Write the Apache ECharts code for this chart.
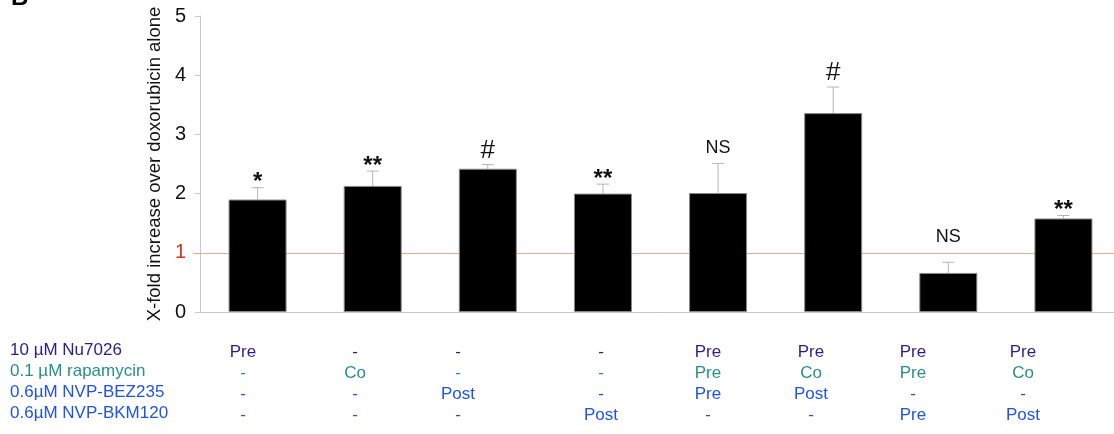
<!DOCTYPE html>
<html>
<head>
<meta charset="utf-8">
<script src="https://cdn.jsdelivr.net/npm/echarts@6/dist/echarts.min.js"></script>
<style>
  html, body { margin: 0; padding: 0; background: #fff; }
  #chart { width: 1114px; height: 434px; }
</style>
</head>
<body>
<div id="chart"></div>
<script>
// Fold increase in cytotoxicity over doxorubicin alone, per treatment schedule
const groups = ['G1', 'G2', 'G3', 'G4', 'G5', 'G6', 'G7', 'G8'];
const foldMeans = [1.90, 2.13, 2.42, 2.00, 2.01, 3.36, 0.66, 1.58];
const foldUpper = [2.10, 2.38, 2.49, 2.16, 2.51, 3.80, 0.84, 1.63];
const significance = ['*', '**', '#', '**', 'NS', '#', 'NS', '**'];
const yTicks = [0, 1, 2, 3, 4, 5];
const baseline = 1;

// Treatment schedule table shown under the axis
const drugNames = ['10 \u00b5M Nu7026', '0.1 \u00b5M rapamycin', '0.6\u00b5M NVP-BEZ235', '0.6\u00b5M NVP-BKM120'];
const nu7026 = ['Pre', '-', '-', '-', 'Pre', 'Pre', 'Pre', 'Pre'];
const rapamycin = ['-', 'Co', '-', '-', 'Pre', 'Co', 'Pre', 'Co'];
const bez235 = ['-', '-', 'Post', '-', 'Pre', 'Post', '-', '-'];
const bkm120 = ['-', '-', '-', 'Post', '-', '-', 'Pre', 'Post'];

// Layout of the schedule table
const tableRows = [nu7026, rapamycin, bez235, bkm120];
const rowColors = ['#33198f', '#25908a', '#1f52ec', '#1f52ec'];
const rowY = [352, 373, 394, 415];
const colX = [243, 355, 458, 601, 708, 811, 913, 1023];
const FONT = '"Liberation Sans", Arial, sans-serif';
const BASELINE_COLOR = '#f0a98f';

const chart = echarts.init(document.getElementById('chart'), null, { renderer: 'canvas' });

// Annotation glyph sizes and spacing above each whisker cap
const markStyle = {
  '*': { font: 'bold 24px ', gap: -7 },
  '**': { font: 'bold 24px ', gap: -7 },
  '#': { font: '26px ', gap: 1 },
  'NS': { font: '18px ', gap: 6 }
};
const extraGap = [0, 0, 0, 0, 0, 0, 10, 0];

function renderError(params, api) {
  const i = api.value(0);
  const base = api.coord([i, api.value(1)]);
  const top = api.coord([i, api.value(2)]);
  const cap = 6;
  const mark = significance[params.dataIndex];
  const ms = markStyle[mark];
  return {
    type: 'group',
    children: [
      { type: 'line', shape: { x1: base[0], y1: base[1], x2: top[0], y2: top[1] },
        style: { stroke: '#b5b5b5', lineWidth: 1 } },
      { type: 'line', shape: { x1: top[0] - cap, y1: top[1], x2: top[0] + cap, y2: top[1] },
        style: { stroke: '#b5b5b5', lineWidth: 1 } },
      { type: 'text', x: top[0], y: top[1] - ms.gap - extraGap[params.dataIndex],
        style: { text: mark, fill: '#111', font: ms.font + FONT,
                 align: 'center', verticalAlign: 'bottom' } }
    ]
  };
}

// Horizontal reference line at the doxorubicin-alone level
function renderBaseline(params, api) {
  const cs = params.coordSys;
  const y = Math.round(api.coord([0, api.value(0)])[1]) + 0.5;
  return {
    type: 'line',
    shape: { x1: cs.x - 7, y1: y, x2: cs.x + cs.width, y2: y },
    style: { stroke: BASELINE_COLOR, lineWidth: 1 }
  };
}

const tableGraphics = [];
drugNames.forEach((name, r) => {
  tableGraphics.push({ type: 'text', left: 10, top: rowY[r] - 10,
    style: { text: name, fill: rowColors[r], font: '17px ' + FONT } });
  tableRows[r].forEach((cell, c) => {
    tableGraphics.push({ type: 'text', x: colX[c], y: rowY[r],
      style: { text: cell, fill: rowColors[r], font: '17px ' + FONT,
               align: 'center', verticalAlign: 'middle' } });
  });
});

chart.setOption({
  animation: false,
  backgroundColor: '#fff',
  grid: { left: 200, width: 921, top: 16, height: 296, outerBoundsMode: 'none', containLabel: false },
  xAxis: {
    type: 'category',
    data: groups,
    axisLine: { lineStyle: { color: '#c8c8c8' } },
    axisTick: { length: 8, lineStyle: { color: '#c8c8c8' } },
    axisLabel: { show: false }
  },
  yAxis: {
    type: 'value',
    min: yTicks[0],
    max: yTicks[yTicks.length - 1],
    interval: 1,
    name: 'X-fold increase over doxorubicin alone',
    nameLocation: 'middle',
    nameRotate: 90,
    nameGap: 31,
    nameTextStyle: { fontSize: 18.5, color: '#111', fontFamily: FONT },
    axisLine: { show: true, lineStyle: { color: '#c8c8c8' } },
    axisTick: { show: true, length: 5, lineStyle: { color: '#c8c8c8' } },
    splitLine: { show: false },
    axisLabel: {
      fontSize: 20, fontFamily: FONT, margin: 14,
      color: (v) => (Number(v) === baseline ? '#e0301e' : '#111')
    }
  },
  series: [
    {
      type: 'custom',
      renderItem: renderBaseline,
      data: [[baseline]],
      encode: { y: 0 },
      silent: true,
      z: 1
    },
    {
      type: 'bar',
      data: foldMeans,
      barWidth: 58,
      itemStyle: { color: '#000', borderColor: '#8a8a8a', borderWidth: 1 },
      z: 3
    },
    {
      type: 'custom',
      renderItem: renderError,
      data: foldMeans.map((m, i) => [i, m, foldUpper[i]]),
      z: 2
    }
  ],
  graphic: [
    { type: 'text', left: 11, top: -14,
      style: { text: 'B', fill: '#000', font: 'bold 24px ' + FONT } },
    ...tableGraphics
  ]
});
</script>
</body>
</html>
